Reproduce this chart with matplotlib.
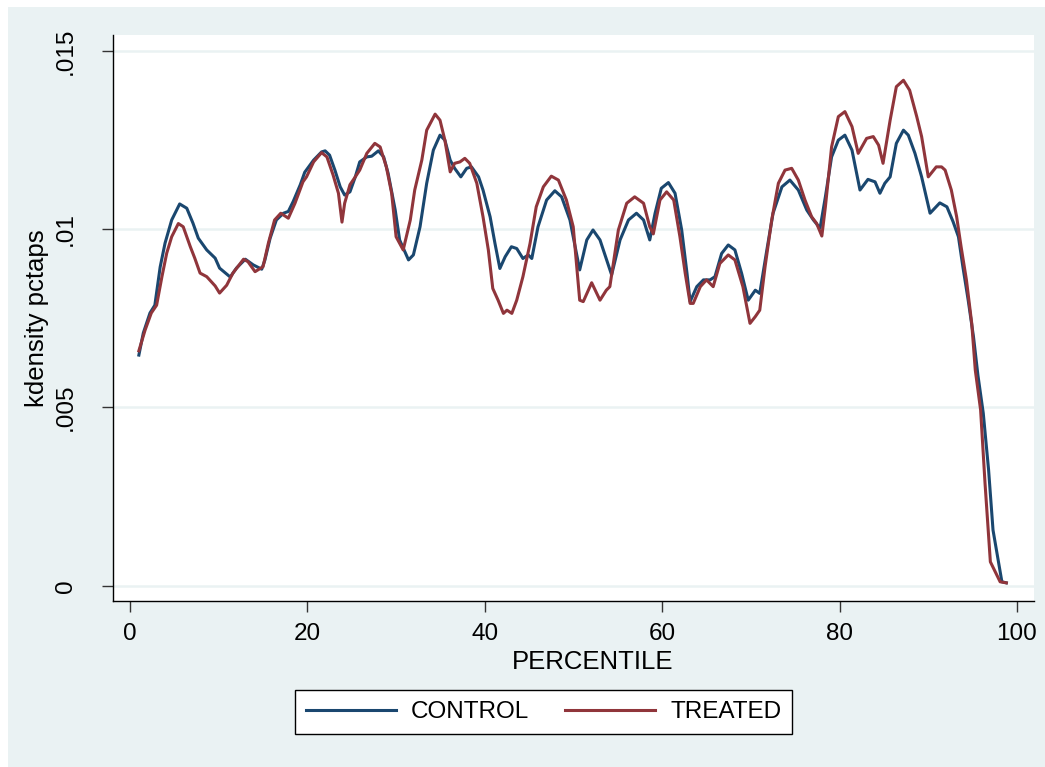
import numpy as np
import matplotlib
matplotlib.use("Agg")
import matplotlib.pyplot as plt
from matplotlib.patches import Rectangle

plt.rcParams['font.family'] = ['Liberation Sans', 'DejaVu Sans']

# kdensity of pctaps
control_x = [1.0, 1.5, 2.25, 2.8, 3.4, 3.95, 4.7, 5.6, 6.4, 7.1, 7.7, 8.65, 9.6, 10.1, 11.3,
             12.0, 13.0, 13.9, 14.85, 15.2, 15.8, 16.5, 17.3, 17.85, 18.4, 19.2, 19.7, 20.7,
             21.6, 22.0, 22.5, 23.1, 23.7, 24.2, 24.8, 25.4, 25.9, 26.7, 27.25, 28.0, 28.6,
             29.1, 29.9, 30.4, 31.4, 31.95, 32.7, 33.45, 34.2, 34.95, 35.5, 36.1, 36.6, 37.3,
             37.96, 38.5, 39.3, 39.8, 40.6, 41.15, 41.7, 42.3, 43.0, 43.6, 44.3, 44.9, 45.3,
             46.0, 46.97, 47.9, 48.66, 49.6, 50.7, 51.5, 52.2, 52.99, 54.3, 55.25, 56.2, 57.1,
             57.9, 58.6, 59.2, 59.9, 60.7, 61.45, 62.2, 62.8, 63.15, 63.9, 64.65, 65.4, 65.95,
             66.7, 67.45, 68.2, 68.96, 69.7, 70.5, 71.0, 71.8, 72.5, 73.5, 74.4, 75.35, 76.3,
             77.05, 77.8, 78.4, 79.1, 79.86, 80.6, 81.4, 82.3, 83.2, 84.0, 84.55, 85.1, 85.7,
             86.4, 87.2, 87.75, 88.5, 89.25, 90.2, 91.3, 92.1, 92.8, 93.4, 93.9, 94.5, 95.1,
             95.6, 96.2, 96.8, 97.3, 98.3, 98.8]
control_y = [.00647, .00709, .00765, .00787, .00894, .00961, .01026, .01071, .01059, .01017,
             .00975, .00942, .00919, .00891, .00866, .00891, .00916, .00900, .00888, .00913,
             .00975, .01026, .01045, .01050, .01078, .01125, .01160, .01194, .01217, .01220,
             .01208, .01166, .01119, .01096, .01105, .01147, .01189, .01203, .01205, .01220,
             .01203, .01157, .01054, .00970, .00914, .00928, .01007, .01129, .01222, .01264,
             .01250, .01194, .01171, .01147, .01171, .01175, .01147, .01110, .01035, .00960,
             .00890, .00923, .00951, .00946, .00918, .00928, .00918, .01007, .01082, .01108,
             .01091, .01026, .00886, .00970, .00998, .00970, .00872, .00970, .01026, .01045,
             .01026, .00970, .01045, .01115, .01131, .01101, .00998, .00876, .00797, .00839,
             .00858, .00858, .00867, .00932, .00956, .00942, .00876, .00801, .00829, .00820,
             .00942, .01045, .01119, .01138, .01110, .01054, .01026, .01003, .01091, .01203,
             .01250, .01264, .01222, .01110, .01140, .01133, .01101, .01129, .01147, .01241,
             .01278, .01264, .01213, .01147, .01045, .01074, .01063, .01021, .00979, .00895,
             .00801, .00698, .00590, .00484, .00325, .00156, .00011, .00008]

treated_x = [1.0, 1.7, 2.4, 3.0, 3.6, 4.14, 4.7, 5.45, 6.0, 6.8, 7.3, 7.9, 8.65, 9.6, 10.1,
             10.9, 11.6, 12.8, 13.3, 14.1, 15.0, 15.6, 16.3, 17.0, 17.85, 18.6, 19.5, 19.9,
             20.7, 21.6, 22.2, 22.9, 23.5, 23.9, 24.2, 24.8, 25.4, 25.9, 26.7, 27.6, 28.2,
             28.9, 29.5, 30.0, 30.8, 31.6, 32.1, 32.9, 33.45, 34.4, 34.95, 35.5, 36.1, 36.6,
             37.2, 37.75, 38.3, 39.1, 39.8, 40.4, 40.9, 41.5, 42.1, 42.5, 43.05, 43.6, 44.3,
             45.1, 45.8, 46.6, 47.5, 48.3, 49.2, 49.97, 50.7, 51.1, 52.05, 52.99, 53.7, 54.1,
             55.06, 56.0, 56.9, 57.9, 58.6, 59.0, 59.75, 60.5, 61.3, 62.0, 62.6, 63.15, 63.5,
             64.3, 65.0, 65.75, 66.5, 67.45, 68.2, 69.1, 69.9, 70.5, 71.0, 71.6, 72.35, 73.1,
             73.85, 74.6, 75.35, 76.1, 76.85, 77.4, 78.0, 78.4, 79.1, 79.86, 80.6, 81.4, 82.1,
             83.05, 83.8, 84.4, 84.9, 85.7, 86.4, 87.2, 87.9, 88.7, 89.25, 90.0, 90.9, 91.5,
             91.9, 92.6, 93.2, 93.7, 94.3, 94.9, 95.3, 95.9, 96.4, 97.0, 98.1, 98.8]
treated_y = [.00659, .00717, .00765, .00787, .00867, .00933, .00979, .01016, .01007, .00951,
             .00919, .00877, .00867, .00841, .00821, .00843, .00877, .00916, .00909, .00881,
             .00895, .00961, .01026, .01045, .01031, .01073, .01133, .01147, .01189, .01215,
             .01203, .01152, .01101, .01020, .01073, .01125, .01147, .01166, .01213, .01241,
             .01231, .01175, .01101, .00979, .00942, .01026, .01110, .01194, .01278, .01323,
             .01306, .01250, .01161, .01185, .01189, .01199, .01185, .01129, .01035, .00942,
             .00834, .00801, .00764, .00773, .00764, .00801, .00867, .00960, .01063, .01119,
             .01149, .01138, .01082, .01007, .00801, .00797, .00850, .00801, .00829, .00839,
             .00998, .01073, .01091, .01073, .01007, .00987, .01082, .01105, .01082, .00979,
             .00876, .00792, .00792, .00839, .00858, .00839, .00904, .00928, .00914, .00839,
             .00736, .00755, .00773, .00895, .01026, .01129, .01166, .01171, .01138, .01082,
             .01035, .01017, .00981, .01063, .01231, .01316, .01330, .01288, .01213, .01255,
             .01260, .01236, .01185, .01306, .01400, .01418, .01390, .01316, .01260, .01147,
             .01175, .01175, .01166, .01110, .01035, .00951, .00858, .00736, .00605, .00493,
             .00287, .00067, .00011, .00008]

xticks = [0, 20, 40, 60, 80, 100]
yticks = [0, .005, .01, .015]
ytick_labels = ["0", ".005", ".01", ".015"]

W, H = 1045, 767
fig = plt.figure(figsize=(W / 100, H / 100), dpi=100, facecolor="white")
# stata graph region (ltbluishgray), thin white strip on top/left
bg = Rectangle((8 / W, 0), 1 - 8 / W, 1 - 7 / H, transform=fig.transFigure,
               facecolor="#EAF2F3", edgecolor="none", zorder=-10)
fig.patches.append(bg)

ax = fig.add_axes([113 / W, 1 - 601 / H, (1034 - 113) / W, (601 - 35) / H])
ax.set_zorder(1)
ax.set_facecolor("white")

ax.plot(control_x, control_y, color="#1A476F", lw=2.2, label="CONTROL", zorder=3)
ax.plot(treated_x, treated_y, color="#90353B", lw=2.2, label="TREATED", zorder=3)

ax.set_xlim(-1.917, 101.92)
ax.set_ylim(-0.000429, 0.01545)
ax.set_xticks(xticks)
ax.set_yticks(yticks)
ax.set_yticklabels(ytick_labels, rotation=90, va="center")
ax.grid(axis="y", color="#EAF2F3", lw=1.8, zorder=1)
ax.set_axisbelow(True)

for s in ["top", "right"]:
    ax.spines[s].set_visible(False)
for s in ["left", "bottom"]:
    ax.spines[s].set_color("black")
    ax.spines[s].set_linewidth(1.0)

ax.tick_params(axis="x", length=8, width=1, color="#333333", labelsize=17.5, pad=8)
ax.tick_params(axis="y", length=8, width=1, color="#333333", labelsize=17.5, pad=18)

ax.set_xlabel("PERCENTILE", fontsize=18.5)
ax.xaxis.set_label_coords((593 - 113) / 921, (601 - 650) / 566)
ax.set_ylabel("kdensity pctaps", fontsize=18.5)
ax.yaxis.set_label_coords((49 - 113) / 921, 0.5)

leg = fig.legend(loc="center", bbox_to_anchor=(543.5 / W, 1 - 712 / H), ncol=2,
                 fontsize=17.5, frameon=True, fancybox=False, edgecolor="black",
                 handlelength=3.7, handletextpad=0.62, columnspacing=1.5, borderpad=0.45)
leg.get_frame().set_linewidth(1.0)
leg.get_frame().set_facecolor("white")
leg.get_frame().set_alpha(1)

plt.savefig("out.png", dpi=100, facecolor=fig.get_facecolor())
